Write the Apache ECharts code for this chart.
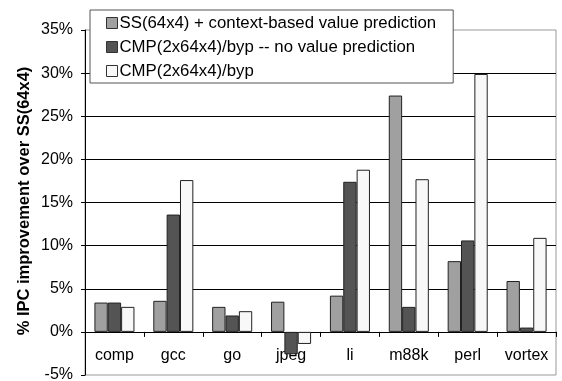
<!DOCTYPE html>
<html><head><meta charset="utf-8">
<script src="https://cdn.jsdelivr.net/npm/echarts@6/dist/echarts.min.js"></script>
<style>html,body{margin:0;padding:0;background:#fff}#c{width:562px;height:381px}</style>
</head><body><div id="c"></div>
<script>
var categories = ['comp','gcc','go','jpeg','li','m88k','perl','vortex'];
var ssContextVP = [3.4, 3.6, 2.9, 3.5, 4.2, 27.4, 8.2, 5.9];
var cmpNoVP = [3.4, 13.6, 1.9, -2.6, 17.4, 2.9, 10.6, 0.5];
var cmpByp = [2.9, 17.6, 2.4, -1.4, 18.8, 17.7, 29.9, 10.9];
var seriesNames = ['SS(64x4) + context-based value prediction','CMP(2x64x4)/byp -- no value prediction','CMP(2x64x4)/byp'];
var yTitle = '% IPC improvement over SS(64x4)';

var font = 'Liberation Sans, Arial, sans-serif';
var colors = ['#a0a0a0','#545454','#f8f8f8'];
var chart = echarts.init(document.getElementById('c'));
function mk(name, data, color) {
  return {
    name: name, type: 'bar', data: data, barGap: '0%', barCategoryGap: '32%',
    itemStyle: { color: color, borderColor: '#222', borderWidth: 1 },
    animation: false
  };
}
chart.setOption({
  animation: false,
  textStyle: { fontFamily: font },
  grid: { left: 85, right: 6, top: 30, bottom: 6, show: true, borderColor: '#999', borderWidth: 1, containLabel: false, outerBoundsMode: 'none' },
  legend: {
    orient: 'vertical', left: 90, top: 10,
    backgroundColor: '#fff', borderColor: '#555', borderWidth: 1,
    padding: [4, 17, 3, 16], itemGap: 6, itemWidth: 11, itemHeight: 11,
    textStyle: { fontFamily: font, fontSize: 16.8, lineHeight: 18, color: '#000', padding: [0,0,0,-3] },
    icon: 'rect',
    itemStyle: { borderColor: '#333', borderWidth: 1 },
    data: seriesNames
  },
  xAxis: {
    type: 'category', data: categories,
    axisLine: { onZero: true, lineStyle: { color: '#000' } },
    axisTick: { show: true, length: 5, lineStyle: { color: '#000' } },
    axisLabel: { fontFamily: font, fontSize: 16, color: '#000', margin: -27 }
  },
  yAxis: {
    type: 'value', min: -5, max: 35, interval: 5,
    axisLine: { show: true, lineStyle: { color: '#000' } },
    axisTick: { show: true, length: 4, lineStyle: { color: '#000' } },
    axisLabel: { fontFamily: font, fontSize: 16, color: '#000', margin: 12, formatter: '{value}%' },
    splitLine: { show: true, showMinLine: false, showMaxLine: false, lineStyle: { color: '#000', width: 1 } }
  },
  graphic: [{
    type: 'text', x: 24, y: 201, rotation: Math.PI / 2,
    style: { text: yTitle, fontFamily: font, fontSize: 16.5, fontWeight: 'bold', fill: '#000', align: 'center', verticalAlign: 'middle' }
  }],
  series: [mk(seriesNames[0], ssContextVP, colors[0]), mk(seriesNames[1], cmpNoVP, colors[1]), mk(seriesNames[2], cmpByp, colors[2])]
});
</script></body></html>
